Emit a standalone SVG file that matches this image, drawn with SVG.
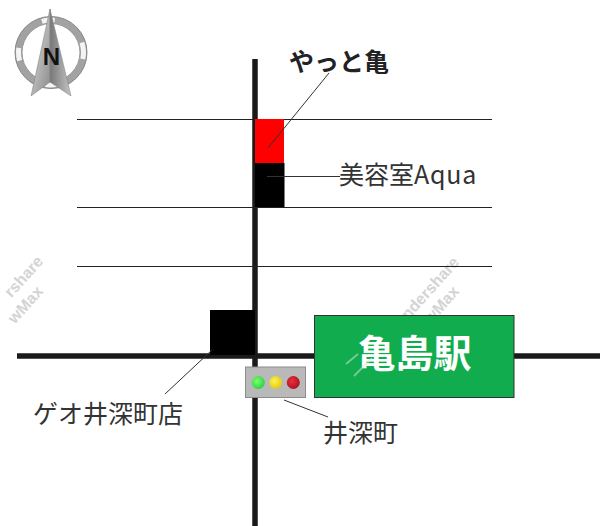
<svg xmlns="http://www.w3.org/2000/svg" width="600" height="526" viewBox="0 0 600 526">
<defs>
<style>
.road{stroke:#1a1a1a;stroke-width:5.5;fill:none}
.street{stroke:#222;stroke-width:1.2;fill:none}
.leader{stroke:#333;stroke-width:1;fill:none}
.label{font-family:"Noto Sans CJK JP","Noto Sans",sans-serif;font-size:25px;fill:#333}
.wm{font-family:"Liberation Sans",sans-serif;font-size:16px;font-weight:bold;fill:#d4d4d4;text-anchor:end}
</style>
<linearGradient id="al" x1="0" x2="1" y1="0" y2="1"><stop offset="0" stop-color="#e4e4e4"/><stop offset="1" stop-color="#8a8a8a"/></linearGradient>
<linearGradient id="ar" x1="0" x2="1" y1="0" y2="0"><stop offset="0" stop-color="#777"/><stop offset="1" stop-color="#c4c4c4"/></linearGradient>
<radialGradient id="gG" cx="0.4" cy="0.4" r="0.7"><stop offset="0" stop-color="#7dff6a"/><stop offset="1" stop-color="#22cc44"/></radialGradient>
<radialGradient id="gY" cx="0.4" cy="0.4" r="0.7"><stop offset="0" stop-color="#fff24a"/><stop offset="1" stop-color="#dcc414"/></radialGradient>
<radialGradient id="gR" cx="0.4" cy="0.4" r="0.7"><stop offset="0" stop-color="#e8303a"/><stop offset="1" stop-color="#a80f20"/></radialGradient>
</defs>
<rect width="600" height="526" fill="#fff"/>
<g id="watermarks">
<text class="wm" transform="translate(44 262) rotate(-48)">rshare</text>
<text class="wm" transform="translate(44 292) rotate(-48)">wMax</text>
<text class="wm" transform="translate(460 263) rotate(-48)">ondershare</text>
<text class="wm" transform="translate(460 292) rotate(-48)">wMax</text>
</g>
<g id="connectors">
<line class="road" x1="255" y1="59" x2="255" y2="526"/>
<line class="road" x1="17" y1="356" x2="600" y2="356"/>
<line class="street" x1="77" y1="119.500" x2="492" y2="119.500"/>
<line class="street" x1="77" y1="207.500" x2="492" y2="207.500"/>
<line class="street" x1="77" y1="266.500" x2="492" y2="266.500"/>
</g>
<g id="compass">
<circle cx="51" cy="52.500" r="32.500" fill="#fff" stroke="#a2a2a2" stroke-width="7"/>
<circle cx="51" cy="52.500" r="32.500" fill="none" stroke="#f4f4f4" stroke-width="5" stroke-dasharray="13 37.050" stroke-dashoffset="6.500"/>
<circle cx="51" cy="52.500" r="36" fill="none" stroke="#888" stroke-width="1"/>
<circle cx="51" cy="52.500" r="29" fill="none" stroke="#999" stroke-width="1"/>
<path d="M50 9L31 96L50 82Z" fill="url(#al)" stroke="#888" stroke-width="0.600"/>
<path d="M50 9L71 96L50 82Z" fill="url(#ar)" stroke="#888" stroke-width="0.600"/>
<text x="51.500" y="65" text-anchor="middle" font-family="Liberation Sans,sans-serif" font-weight="bold" font-size="24" fill="#111">N</text>
</g>
<g id="yattokame">
<rect x="255" y="119" width="29" height="44" fill="#f00"/>
<text x="289" y="71" font-family="&quot;Noto Sans CJK JP&quot;,sans-serif" font-size="25" font-weight="bold" fill="#222">やっと亀</text>
</g>
<g id="aqua">
<rect x="255" y="163" width="29.500" height="44" fill="#000"/>
<text class="label" x="339" y="184">美容室<tspan letter-spacing="0.800">Aqua</tspan></text>
</g>
<g id="geo">
<rect x="210" y="310" width="45" height="45" fill="#000"/>
<text class="label" x="33" y="423">ゲオ井深町店</text>
</g>
<g id="station">
<rect x="314.500" y="315.500" width="199.500" height="82" fill="#10ac4e" stroke="#333" stroke-width="1"/>
<text x="414.500" y="367" text-anchor="middle" font-family="&quot;Noto Sans CJK JP&quot;,sans-serif" font-size="38" font-weight="bold" fill="#fff">亀島駅</text>
<g stroke="#d6e8dc" stroke-width="2" opacity="0.5" fill="none"><line x1="346" y1="364" x2="358" y2="354"/><line x1="354" y1="376" x2="372" y2="358"/></g>
</g>
<g id="signal">
<rect x="245.500" y="367" width="60" height="30.500" fill="#b9b9b9" stroke="#8c8c8c" stroke-width="1"/>
<circle cx="258.300" cy="382.500" r="6.500" fill="url(#gG)"/>
<circle cx="275.700" cy="382.500" r="6.500" fill="url(#gY)"/>
<circle cx="293.300" cy="382.500" r="6.500" fill="url(#gR)"/>
<text class="label" x="323" y="442">井深町</text>
</g>
<g id="leaders">
<line class="leader" x1="329" y1="73" x2="268" y2="148"/>
<line class="leader" x1="267" y1="176.500" x2="340" y2="176.500"/>
<line class="leader" x1="212" y1="350" x2="165" y2="394"/>
<line class="leader" x1="284" y1="400" x2="328" y2="417"/>
</g>
</svg>
